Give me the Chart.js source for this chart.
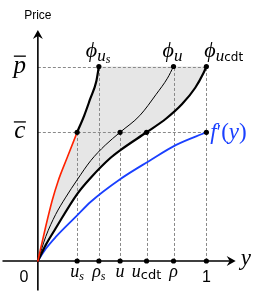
<!DOCTYPE html>
<html>
<head>
<meta charset="utf-8">
<script src="https://cdn.jsdelivr.net/npm/chart.js@4/dist/chart.umd.min.js"></script>
<style>
  html, body { margin: 0; padding: 0; background: #fff; }
  canvas { display: block; }
</style>
</head>
<body>
<canvas id="priceChart" width="256" height="296"></canvas>
<script>
// price levels
const cBar = 1.0;
const pBar = 1.511;

// marked points on the y axis, and the level each guide goes up to
const xMarks = [0.233, 0.362, 0.488, 0.645, 0.805, 1];
const xMarkLabels = [['u', 's'], ['ρ', 's'], ['u', ''], ['u', 'cdt'], ['ρ', ''], ['1', '']];
const xMarkLevels = [cBar, pBar, cBar, cBar, pBar, pBar];

// phi_{u_s}: red below c-bar, black above
const usLowX = [0, 0.047, 0.085, 0.12, 0.173, 0.233];
const usLowY = [0, 0.27, 0.47, 0.62, 0.80, 1.0];
const usHighX = [0.233, 0.275, 0.31, 0.347, 0.362];
const usHighY = [1.0, 1.13, 1.257, 1.397, 1.511];

// phi_u (thin)
const uX = [0, 0.047, 0.105, 0.163, 0.233, 0.314, 0.40, 0.488, 0.605, 0.702, 0.769, 0.805];
const uY = [0, 0.19, 0.36, 0.49, 0.63, 0.78, 0.90, 1.0, 1.13, 1.295, 1.42, 1.511];

// phi_{u_cdt} (thick)
const cdtX = [0, 0.047, 0.105, 0.233, 0.314, 0.43, 0.488, 0.645, 0.76, 0.856, 0.934, 0.983, 1];
const cdtY = [0, 0.125, 0.252, 0.52, 0.647, 0.80, 0.86, 1.0, 1.105, 1.219, 1.346, 1.46, 1.511];

// f'(y)
const fX = [0, 0.047, 0.105, 0.233, 0.314, 0.488, 0.663, 0.818, 1];
const fY = [0, 0.095, 0.185, 0.354, 0.46, 0.635, 0.779, 0.90, 1.0];

const RED = '#ff2200';
const BLUE = '#1a40ff';
const BAND = '#e6e6e6';
const GUIDE = '#8a8a8a';

const toPts = (xs, ys) => xs.map((x, i) => ({ x: x, y: ys[i] }));

// black dots: on the axis, at the levels, and the end of f'
const dots = xMarks.map(x => ({ x: x, y: 0 }))
    .concat(xMarks.map((x, i) => ({ x: x, y: xMarkLevels[i] })))
    .concat([{ x: fX[fX.length - 1], y: fY[fY.length - 1] }]);

const serifI = s => `italic ${s}px "Liberation Serif", "DejaVu Serif", serif`;
const serif = s => `${s}px "Liberation Serif", "DejaVu Serif", serif`;
const sans = s => `${s}px "Liberation Sans", Arial, sans-serif`;
const cmSans = s => `${s}px "DejaVu Sans", sans-serif`;

function drawRuns(ctx, runs, x, y, align) {
    let w = 0;
    runs.forEach(r => { ctx.font = r.font; r.w = ctx.measureText(r.text).width; w += r.w; });
    let cx = align === 'center' ? x - w / 2 : x;
    runs.forEach(r => {
        ctx.font = r.font;
        ctx.fillText(r.text, cx, y + (r.dy || 0));
        cx += r.w;
    });
    return w;
}

function traceCurve(ctx, pts, reverse) {
    const list = reverse ? pts.slice().reverse() : pts;
    for (let i = 1; i < list.length; i++) {
        const a = list[i - 1], b = list[i];
        if (!reverse) ctx.bezierCurveTo(a.cp2x, a.cp2y, b.cp1x, b.cp1y, b.x, b.y);
        else ctx.bezierCurveTo(a.cp1x, a.cp1y, b.cp2x, b.cp2y, b.x, b.y);
    }
}

function arrowHead(ctx, x, y, dir) {
    // dir: 'right' or 'up'
    ctx.beginPath();
    if (dir === 'right') {
        ctx.moveTo(x, y);
        ctx.lineTo(x - 9, y - 5);
        ctx.lineTo(x - 6, y);
        ctx.lineTo(x - 9, y + 5);
    } else {
        ctx.moveTo(x, y);
        ctx.lineTo(x - 5, y + 9);
        ctx.lineTo(x, y + 6);
        ctx.lineTo(x + 5, y + 9);
    }
    ctx.closePath();
    ctx.fill();
}

const xAxisEnd = [-0.21, 1.174];
const yAxisEnd = [-0.229, 1.794];

const pricePlot = {
    id: 'pricePlot',
    beforeDatasetsDraw(chart) {
        const ctx = chart.ctx;
        const xs = chart.scales.x, ys = chart.scales.y;
        const area = chart.chartArea;
        const lines = [1, 2, 4].map(i => {
            const meta = chart.getDatasetMeta(i);
            meta.dataset.updateControlPoints(area, 'x');
            return meta.data;
        });
        const [low, high, cdt] = lines;

        // shaded band between phi_{u_s} and phi_{u_cdt}, capped at p-bar
        ctx.save();
        ctx.fillStyle = BAND;
        ctx.beginPath();
        ctx.moveTo(low[0].x, low[0].y);
        traceCurve(ctx, low, false);
        traceCurve(ctx, high, false);
        ctx.lineTo(cdt[cdt.length - 1].x, cdt[cdt.length - 1].y);
        traceCurve(ctx, cdt, true);
        ctx.closePath();
        ctx.fill();

        // dashed guides
        ctx.strokeStyle = GUIDE;
        ctx.lineWidth = 1;
        ctx.setLineDash([3, 2]);
        ctx.beginPath();
        [cBar, pBar].forEach(v => {
            const py = Math.round(ys.getPixelForValue(v)) + 0.5;
            ctx.moveTo(xs.getPixelForValue(0), py);
            ctx.lineTo(xs.getPixelForValue(1), py);
        });
        xMarks.forEach((v, i) => {
            const px = Math.round(xs.getPixelForValue(v)) + 0.5;
            ctx.moveTo(px, ys.getPixelForValue(0));
            ctx.lineTo(px, ys.getPixelForValue(xMarkLevels[i]));
        });
        ctx.stroke();
        ctx.setLineDash([]);

        // axes
        const ox = xs.getPixelForValue(0), oy = ys.getPixelForValue(0);
        const xTip = xs.getPixelForValue(xAxisEnd[1]);
        const yTip = ys.getPixelForValue(yAxisEnd[1]);
        ctx.strokeStyle = '#000';
        ctx.fillStyle = '#000';
        ctx.lineWidth = 1.6;
        ctx.beginPath();
        ctx.moveTo(xs.getPixelForValue(xAxisEnd[0]), oy);
        ctx.lineTo(xTip - 5, oy);
        ctx.moveTo(ox, ys.getPixelForValue(yAxisEnd[0]));
        ctx.lineTo(ox, yTip + 5);
        ctx.stroke();
        arrowHead(ctx, xTip, oy, 'right');
        arrowHead(ctx, ox, yTip, 'up');
        ctx.restore();
    },
    afterDraw(chart) {
        const ctx = chart.ctx;
        const xs = chart.scales.x, ys = chart.scales.y;
        const ox = xs.getPixelForValue(0), oy = ys.getPixelForValue(0);
        ctx.save();
        ctx.fillStyle = '#000';
        ctx.textBaseline = 'alphabetic';
        ctx.textAlign = 'left';

        // axis titles
        drawRuns(ctx, [{ text: 'Price', font: sans(12) }], ox, ys.getPixelForValue(yAxisEnd[1]) - 11, 'center');
        drawRuns(ctx, [{ text: 'y', font: serifI(23) }], xs.getPixelForValue(xAxisEnd[1]) + 5, oy + 4, 'left');
        drawRuns(ctx, [{ text: '0', font: sans(16) }], ox - 14, oy + 21, 'center');

        // marks under the axis
        xMarks.forEach((v, i) => {
            const [main, sub] = xMarkLabels[i];
            const px = xs.getPixelForValue(v);
            if (main === '1') {
                drawRuns(ctx, [{ text: main, font: sans(16) }], px, oy + 21, 'center');
                return;
            }
            const runs = [{ text: main, font: serifI(18) }];
            if (sub === 's') runs.push({ text: sub, font: serifI(12), dy: 3 });
            if (sub === 'cdt') runs.push({ text: sub, font: cmSans(13), dy: 2 });
            drawRuns(ctx, runs, px, oy + 16, 'center');
        });

        // level labels with overline
        [[cBar, 'c'], [pBar, 'p']].forEach(([v, t]) => {
            const py = ys.getPixelForValue(v);
            drawRuns(ctx, [{ text: t, font: serifI(25) }], ox - 18, py + 6, 'center');
            ctx.fillRect(ox - 24, py - 11, 12, 1.3);
        });

        // phi labels above the p-bar points
        const top = ys.getPixelForValue(pBar) - 10;
        drawRuns(ctx, [
            { text: 'ϕ', font: serifI(22) },
            { text: 'u', font: serifI(17), dy: 4 },
            { text: 's', font: serifI(12), dy: 6 }
        ], xs.getPixelForValue(xMarks[1]) - 13, top, 'left');
        drawRuns(ctx, [
            { text: 'ϕ', font: serifI(22) },
            { text: 'u', font: serifI(17), dy: 4 }
        ], xs.getPixelForValue(xMarks[4]) - 11, top, 'left');
        drawRuns(ctx, [
            { text: 'ϕ', font: serifI(22) },
            { text: 'u', font: serifI(17), dy: 4 },
            { text: 'cdt', font: cmSans(12), dy: 4 }
        ], xs.getPixelForValue(1) - 2, top, 'left');

        // f'(y)
        ctx.fillStyle = BLUE;
        drawRuns(ctx, [
            { text: 'f', font: serifI(23) },
            { text: '′', font: serif(20) },
            { text: '(', font: serif(23) },
            { text: 'y', font: serifI(23) },
            { text: ')', font: serif(23) }
        ], xs.getPixelForValue(1) + 4, ys.getPixelForValue(cBar) + 7, 'left');
        ctx.restore();
    }
};

new Chart(document.getElementById('priceChart'), {
    type: 'line',
    data: {
        datasets: [
            { label: 'marks', data: dots, showLine: false, pointRadius: 2.6, pointHoverRadius: 2.6,
              pointBackgroundColor: '#000', pointBorderWidth: 0 },
            { label: 'phi_us low', data: toPts(usLowX, usLowY), borderColor: RED, borderWidth: 1.6 },
            { label: 'phi_us high', data: toPts(usHighX, usHighY), borderColor: '#000', borderWidth: 2.2 },
            { label: 'phi_u', data: toPts(uX, uY), borderColor: '#000', borderWidth: 1 },
            { label: 'phi_ucdt', data: toPts(cdtX, cdtY), borderColor: '#000', borderWidth: 2.2 },
            { label: "f'", data: toPts(fX, fY), borderColor: BLUE, borderWidth: 1.8 }
        ]
    },
    options: {
        responsive: false,
        animation: false,
        devicePixelRatio: 1,
        events: [],
        layout: { padding: 0 },
        elements: {
            line: { cubicInterpolationMode: 'monotone', fill: false, borderCapStyle: 'round' },
            point: { radius: 0, hoverRadius: 0 }
        },
        plugins: { legend: { display: false }, tooltip: { enabled: false } },
        scales: {
            x: { type: 'linear', display: false, min: -0.2093, max: 1.2791 },
            y: { type: 'linear', display: false, min: -0.2519, max: 2.0076 }
        }
    },
    plugins: [pricePlot]
});
</script>
</body>
</html>
